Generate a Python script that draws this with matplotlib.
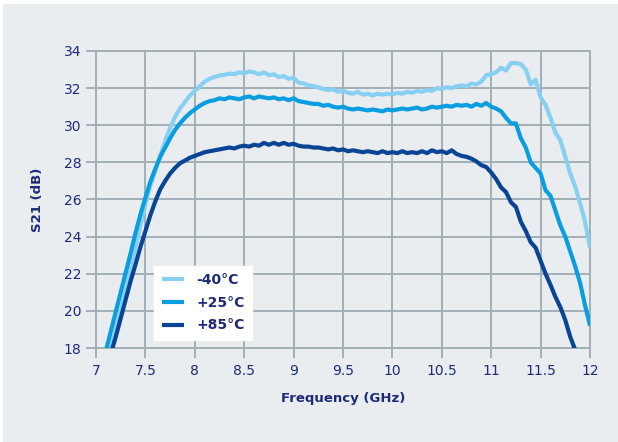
import numpy as np
import matplotlib
matplotlib.use("Agg")
import matplotlib.pyplot as plt
from matplotlib.patches import Rectangle

# Frequency grid (GHz)
freq = np.round(np.arange(7.10, 12.001, 0.05), 2)

s21_m40 = [17.0, 18.0, 19.0, 20.05, 21.1, 22.25, 23.45, 24.6, 25.75, 26.75,
           27.55, 28.35, 29.15, 29.85, 30.45, 30.9, 31.25, 31.6, 31.85, 32.1,
           32.35, 32.5, 32.6, 32.68, 32.72, 32.78, 32.75, 32.85, 32.8, 32.9,
           32.85, 32.75, 32.85, 32.7, 32.75, 32.6, 32.65, 32.5, 32.55, 32.3,
           32.25, 32.15, 32.1, 32.05, 31.95, 31.9, 31.95, 31.8, 31.85, 31.75,
           31.7, 31.8, 31.65, 31.7, 31.6, 31.7, 31.65, 31.7, 31.65, 31.75,
           31.7, 31.8, 31.75, 31.85, 31.8, 31.9, 31.85, 32.0, 31.95, 32.05,
           32.0, 32.1, 32.15, 32.1, 32.25, 32.2, 32.35, 32.7, 32.75, 32.85,
           33.1, 32.95, 33.35, 33.35, 33.3, 33.0, 32.2, 32.45, 31.5, 31.1,
           30.4, 29.6, 29.2, 28.3, 27.4, 26.7, 25.8, 24.8, 23.4]

s21_p25 = [17.85, 18.9, 19.95, 21.0, 22.05, 23.1, 24.2, 25.2, 26.1, 26.95,
           27.65, 28.3, 28.8, 29.3, 29.75, 30.1, 30.4, 30.65, 30.85, 31.05,
           31.2, 31.3, 31.35, 31.45, 31.4, 31.5, 31.45, 31.4, 31.5, 31.55,
           31.45, 31.55, 31.5, 31.45, 31.5, 31.4, 31.45, 31.35, 31.45, 31.3,
           31.25, 31.2, 31.15, 31.15, 31.05, 31.1, 31.0, 30.95, 31.0, 30.9,
           30.85, 30.9, 30.85, 30.8, 30.85, 30.8, 30.75, 30.85, 30.8, 30.85,
           30.9, 30.85, 30.9, 30.95, 30.85, 30.9, 31.0, 30.95, 31.0, 31.05,
           31.0, 31.1, 31.05, 31.1, 31.0, 31.15, 31.05, 31.2, 31.0, 30.9,
           30.75, 30.4, 30.1, 30.1, 29.3, 28.8, 28.0, 27.7, 27.4, 26.5,
           26.2, 25.4, 24.6, 24.0, 23.2, 22.4, 21.5, 20.3, 19.2]

s21_p85 = [16.8, 17.7, 18.6, 19.6, 20.6, 21.6, 22.5, 23.45, 24.3, 25.15,
           25.9, 26.55, 27.0, 27.4, 27.7, 27.95, 28.1, 28.25, 28.35, 28.45,
           28.55, 28.6, 28.65, 28.7, 28.75, 28.8, 28.75, 28.85, 28.9, 28.85,
           28.95, 28.9, 29.05, 28.95, 29.05, 28.95, 29.05, 28.95, 29.0, 28.9,
           28.85, 28.85, 28.8, 28.8, 28.75, 28.7, 28.75, 28.65, 28.7, 28.6,
           28.65, 28.6, 28.55, 28.6, 28.55, 28.5, 28.6, 28.5, 28.55, 28.5,
           28.6, 28.5, 28.55, 28.5, 28.6, 28.5, 28.65, 28.55, 28.6, 28.5,
           28.65, 28.45, 28.35, 28.3, 28.2, 28.05, 27.85, 27.75, 27.45, 27.1,
           26.65, 26.4, 25.85, 25.6, 24.8, 24.3, 23.7, 23.4, 22.7, 22.0,
           21.4, 20.75, 20.2, 19.5, 18.6, 17.9, 17.0, 16.0, 15.0]

series_labels = ["-40°C", "+25°C", "+85°C"]
series_colors = ["#88d0f2", "#0a9ddf", "#0a4595"]

x_ticks = [7, 7.5, 8, 8.5, 9, 9.5, 10, 10.5, 11, 11.5, 12]
x_tick_labels = ["7", "7.5", "8", "8.5", "9", "9.5", "10", "10.5", "11", "11.5", "12"]
y_ticks = [18, 20, 22, 24, 26, 28, 30, 32, 34]

navy = "#1e2a78"
grid_c = "#a3afb7"
bg = "#e9edf0"

fig = plt.figure(figsize=(6.18, 4.42), dpi=100, facecolor="white")
fig.patches.append(Rectangle((3 / 618, 0), 1, (442 - 4) / 442, transform=fig.transFigure,
                             facecolor=bg, edgecolor="none", zorder=-10))
ax = fig.add_axes([96 / 618, 1 - 348 / 442, 494 / 618, 297 / 442])
ax.set_facecolor(bg)

for vals, lab, col in zip([s21_m40, s21_p25, s21_p85], series_labels, series_colors):
    ax.plot(freq, vals, color=col, lw=3.0, label=lab, solid_capstyle="butt", zorder=3)

ax.set_xlim(7, 12)
ax.set_ylim(18, 34)
ax.set_xticks(x_ticks)
ax.set_xticklabels(x_tick_labels)
ax.set_yticks(y_ticks)
ax.grid(True, color=grid_c, lw=1.4, zorder=1)
for sp in ax.spines.values():
    sp.set_color(grid_c)
    sp.set_linewidth(1.4)
ax.tick_params(axis="both", colors=grid_c, width=1.4, length=7.5, labelcolor=navy,
               labelsize=10)
ax.tick_params(axis="y", pad=3)
ax.tick_params(axis="x", pad=4)

ax.set_xlabel("Frequency (GHz)", color=navy, fontsize=9.5, fontweight="bold", labelpad=10)
ax.set_ylabel("S21 (dB)", color=navy, fontsize=9.5, fontweight="bold", labelpad=14)

leg = ax.legend(loc="lower left", bbox_to_anchor=((154 - 96) / 494, (348 - 340) / 297),
                frameon=True, fancybox=False, framealpha=1, facecolor="white",
                edgecolor="white", handlelength=1.6, handletextpad=0.9,
                borderpad=0.55, labelspacing=0.62, borderaxespad=0)
for t in leg.get_texts():
    t.set_color(navy)
    t.set_fontweight("bold")
    t.set_fontsize(10)
leg.set_zorder(5)

fig.savefig("out.png", dpi=100, facecolor=fig.get_facecolor())
